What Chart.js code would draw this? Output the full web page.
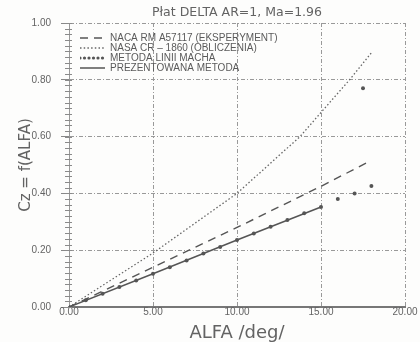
<!DOCTYPE html>
<html>
<head>
<meta charset="utf-8">
<script src="https://cdn.jsdelivr.net/npm/chart.js@4"></script>
<style>
  html, body { margin: 0; padding: 0; background: #fdfdfc; }
  #wrap { width: 420px; height: 342px; }
</style>
</head>
<body>
<div id="wrap"><canvas id="chart" width="420" height="342"></canvas></div>
<script>
// ---- data ----
const titleText = 'Płat DELTA AR=1, Ma=1.96';
const xTitle = 'ALFA /deg/';
const yTitle = 'Cz = f(ALFA)';

const seriesLabels = [
    'NACA RM A57117 (EKSPERYMENT)',
    'NASA CR – 1860 (OBLICZENIA)',
    'METODA LINII MACHA',
    'PREZENTOWANA METODA'
];

// NACA experiment (dashed)
const alfaNaca = [0, 5, 10, 15, 17.8];
const czNaca = [0, 0.14, 0.28, 0.425, 0.51];

// NASA CR-1860 calculation (dotted)
const alfaNasa = [0, 5, 10, 13.75, 15, 16.7, 18];
const czNasa = [0, 0.19, 0.40, 0.60, 0.685, 0.80, 0.895];

// Mach line method (dots)
const alfaMach = [0, 1, 2, 3, 4, 5, 6, 7, 8, 9, 10, 11, 12, 13, 14, 15, 16, 17, 18, 17.5];
const czMach = [0, 0.024, 0.047, 0.07, 0.093, 0.117, 0.14, 0.164, 0.188, 0.211,
                0.236, 0.259, 0.283, 0.306, 0.33, 0.352, 0.38, 0.40, 0.426, 0.77];

// presented method (solid)
const alfaPrez = [0, 5, 10, 15];
const czPrez = [0, 0.117, 0.236, 0.352];

const xTicks = [0, 5, 10, 15, 20];
const yTicks = [0, 0.2, 0.4, 0.6, 0.8, 1.0];

const ink = '#555';
const textGray = '#636363';
const gridGray = '#999';

function pts(xs, ys) {
    return xs.map((x, i) => ({ x: x, y: ys[i] }));
}

// small tick marks along the left axis
const minorTicks = {
    id: 'minorTicks',
    afterDraw(chart) {
        const ctx = chart.ctx;
        const ys = chart.scales.y;
        const x0 = chart.chartArea.left;
        ctx.save();
        ctx.strokeStyle = '#8a8a8a';
        ctx.lineWidth = 1;
        ctx.beginPath();
        for (let k = 0; k <= 50; k++) {
            const py = Math.round(ys.getPixelForValue(k * 0.02)) + 0.5;
            ctx.moveTo(x0 - 4, py);
            ctx.lineTo(x0 + 3, py);
        }
        ctx.stroke();
        ctx.restore();
    }
};

// put the in-plot legend a little away from the top-left corner
const legendNudge = {
    id: 'legendNudge',
    afterLayout(chart) {
        const l = chart.legend;
        if (!l) return;
        const area = chart.chartArea;
        const w = l.right - l.left;
        l.left = area.left + 11;
        l.right = l.left + w;
        l.top = area.top + 10;
        l.bottom = l.top + 60;
    }
};

const lineFont = { family: 'Liberation Sans', size: 10 };

new Chart(document.getElementById('chart'), {
    type: 'scatter',
    data: {
        datasets: [
            {
                label: seriesLabels[0],
                data: pts(alfaNaca, czNaca),
                showLine: true,
                borderColor: ink,
                borderWidth: 1.4,
                borderDash: [8, 6],
                pointRadius: 0
            },
            {
                label: seriesLabels[1],
                data: pts(alfaNasa, czNasa),
                showLine: true,
                borderColor: '#666',
                borderWidth: 1.3,
                borderDash: [1.5, 2.2],
                pointRadius: 0
            },
            {
                label: seriesLabels[2],
                data: pts(alfaMach, czMach),
                showLine: false,
                borderColor: ink,
                backgroundColor: ink,
                pointRadius: 2,
                pointBorderWidth: 0,
                pointBackgroundColor: ink
            },
            {
                label: seriesLabels[3],
                data: pts(alfaPrez, czPrez),
                showLine: true,
                borderColor: ink,
                borderWidth: 1.5,
                pointRadius: 0
            }
        ]
    },
    options: {
        responsive: false,
        animation: false,
        layout: { padding: { top: 0, right: 15, left: 0, bottom: 0 } },
        plugins: {
            title: {
                display: true,
                fullSize: false,
                text: titleText,
                color: textGray,
                font: { family: 'DejaVu Sans', size: 12.5, weight: 'normal', lineHeight: 1.2 },
                padding: { top: 5, bottom: 3 }
            },
            legend: {
                position: 'chartArea',
                align: 'start',
                labels: {
                    usePointStyle: true,
                    pointStyleWidth: 25,
                    padding: 0,
                    color: textGray,
                    font: lineFont,
                    generateLabels: (chart) => chart.data.datasets.map((ds, i) => ({
                        text: ds.label,
                        datasetIndex: i,
                        pointStyle: 'line',
                        strokeStyle: ds.borderColor,
                        fillStyle: ds.borderColor,
                        fontColor: '#5a5a5a',
                        lineWidth: i === 2 ? 3.2 : ds.borderWidth,
                        lineDash: i === 2 ? [0, 4.5] : (ds.borderDash || []),
                        lineCap: i === 2 ? 'round' : 'butt'
                    }))
                }
            },
            tooltip: { enabled: false }
        },
        scales: {
            x: {
                type: 'linear',
                min: 0,
                max: 20,
                afterFit: (s) => { s.height = 35; },
                afterBuildTicks: (s) => { s.ticks = xTicks.map(v => ({ value: v })); },
                ticks: {
                    callback: (v) => Number(v).toFixed(2),
                    color: textGray,
                    font: lineFont,
                    padding: -1,
                    maxRotation: 0,
                    autoSkip: false
                },
                grid: { color: gridGray, lineWidth: 1, drawTicks: false },
                border: { display: true, color: '#777', width: 2, dash: [4, 2, 1, 2] },
                title: {
                    display: true,
                    text: xTitle,
                    color: textGray,
                    font: { family: 'DejaVu Sans', size: 18, lineHeight: 1 },
                    padding: { top: 0, bottom: 0 }
                }
            },
            y: {
                min: 0,
                max: 1,
                afterFit: (s) => { s.width = 69; },
                afterBuildTicks: (s) => { s.ticks = yTicks.map(v => ({ value: v })); },
                ticks: {
                    callback: (v) => Number(v).toFixed(2),
                    color: textGray,
                    font: lineFont,
                    padding: 10,
                    autoSkip: false
                },
                grid: { color: gridGray, lineWidth: 1, drawTicks: true, tickLength: 8, tickColor: '#888', tickBorderDash: [] },
                border: { display: true, color: '#999', width: 1, dash: [4, 2, 1, 2] },
                title: {
                    display: true,
                    text: yTitle,
                    color: textGray,
                    font: { family: 'DejaVu Sans', size: 15, lineHeight: 1.2 },
                    padding: { top: 17, bottom: 0 }
                }
            }
        }
    },
    plugins: [minorTicks, legendNudge]
});
</script>
</body>
</html>
